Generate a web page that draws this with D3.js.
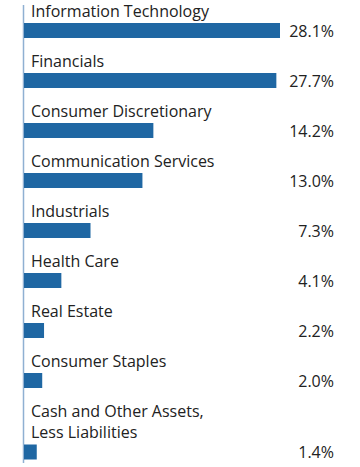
<!DOCTYPE html>
<html><head><meta charset="utf-8">
<script src="https://cdn.jsdelivr.net/npm/d3@7"></script>
<style>html,body{margin:0;padding:0;background:#fff}</style>
</head><body>
<svg id="c" width="360" height="467"></svg>
<script>
const categories = ["Information Technology","Financials","Consumer Discretionary","Communication Services","Industrials","Health Care","Real Estate","Consumer Staples","Cash and Other Assets,\nLess Liabilities"];
const values = [28.1,27.7,14.2,13.0,7.3,4.1,2.2,2.0,1.4];
const valueLabels = ["28.1%","27.7%","14.2%","13.0%","7.3%","4.1%","2.2%","2.0%","1.4%"];

const svg = d3.select("#c");
const x0 = 24;
const x = d3.scaleLinear().domain([0, 28.1]).range([x0, 280]);
const rowH = 50, barH = 15, firstTop = 23, lineH = 21.5;
const font = "Open Sans, sans-serif";

let tops = [], acc = firstTop;
categories.forEach((c,i)=>{
  const n = c.split("\n").length;
  if (i>0) acc += rowH + (n-1)*lineH;
  tops.push(acc);
});

svg.append("line").attr("x1",x0-0.5).attr("x2",x0-0.5).attr("y1",5).attr("y2",463)
  .attr("stroke","#8fb0d2").attr("stroke-width",1.5);

const g = svg.selectAll("g.row").data(categories).join("g").attr("class","row");
g.append("rect").attr("x",x(0)).attr("y",(d,i)=>tops[i]).attr("height",barH)
  .attr("width",(d,i)=>x(values[i])-x(0)).attr("fill","#1f67a3");
g.append("text").attr("x",334).attr("y",(d,i)=>tops[i]+barH-1.5).attr("text-anchor","end")
  .attr("font-family",font).attr("font-size",16).attr("fill","#222")
  .text((d,i)=>valueLabels[i]);
g.each(function(d,i){
  const lines = d.split("\n");
  const t = d3.select(this).append("text").attr("font-family",font).attr("font-size",16).attr("fill","#222");
  const last = tops[i]-6.5;
  lines.forEach((l,j)=>t.append("tspan").attr("x",31).attr("y",last-(lines.length-1-j)*lineH).text(l));
});
</script>
</body></html>
